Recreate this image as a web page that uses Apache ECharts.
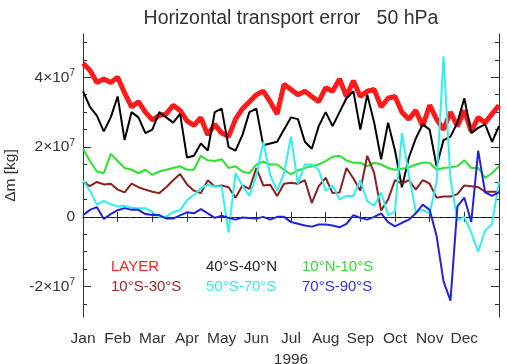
<!DOCTYPE html>
<html>
<head>
<meta charset="utf-8">
<script src="https://cdn.jsdelivr.net/npm/echarts@6/dist/echarts.min.js"></script>
<style>
  html, body { margin: 0; padding: 0; background: #fff; }
  #chart { width: 507px; height: 364px; }
</style>
</head>
<body>
<div id="chart"></div>
<script>
// months on the x axis (ticks are 12 equal steps)
const months = ['Jan', 'Feb', 'Mar', 'Apr', 'May', 'Jun', 'Jul', 'Aug', 'Sep', 'Oct', 'Nov', 'Dec'];

// y ticks, units of 1e7 kg
const yMajor = [-2, 0, 2, 4];
const yMinor = [-2.5, -1.5, -1, -0.5, 0.5, 1, 1.5, 2.5, 3, 3.5, 4.5, 5];

// samples every 0.2 month, values in units of 1e7 kg
const layer = [4.4,4.2,3.85,3.95,3.85,4.0,3.55,3.15,3.3,3.0,2.78,2.9,2.95,3.2,3.05,2.75,2.62,2.84,2.35,2.65,2.4,2.3,2.8,3.1,3.3,3.5,3.6,3.3,2.95,3.8,3.65,3.5,3.6,3.45,3.3,3.7,3.6,3.95,3.45,3.9,3.45,3.6,3.65,3.15,3.4,3.45,3.0,2.8,3.05,2.6,3.2,2.8,2.5,3.0,2.6,3.05,2.45,2.85,2.7,2.95,3.2];
const band40S40N = [3.6,3.15,2.9,2.45,2.85,3.45,2.2,3.0,2.85,2.4,2.5,3.0,2.85,2.7,2.95,1.7,1.75,2.1,1.9,3.0,3.1,2.0,1.9,2.35,3.0,3.1,2.05,2.1,2.15,2.5,2.85,2.8,2.15,1.95,2.6,3.0,2.6,3.0,3.4,3.6,2.5,3.5,2.7,1.65,2.7,1.9,0.85,1.7,2.25,2.65,2.5,1.45,2.2,2.3,2.7,3.4,2.4,2.55,2.65,2.15,2.6];
const band10N10S = [1.95,1.6,1.3,1.25,1.8,1.6,1.4,1.35,1.25,1.35,1.2,1.3,1.35,1.4,1.45,1.35,1.35,1.75,1.62,1.6,1.65,1.4,1.45,1.3,1.25,1.5,1.58,1.5,1.5,1.35,1.22,1.33,1.4,1.45,1.5,1.6,1.72,1.75,1.62,1.55,1.55,1.45,1.55,1.5,1.4,1.35,1.38,1.42,1.5,1.55,1.55,1.35,1.4,1.42,1.45,1.62,1.4,1.4,1.12,1.25,1.45];
const band10S30S = [1.0,0.88,1.0,0.93,0.95,0.78,0.7,0.95,0.85,0.78,0.72,0.68,0.85,1.05,1.23,0.93,0.75,0.68,1.05,0.87,0.9,0.85,0.55,0.9,0.8,1.4,0.9,0.92,0.6,0.95,0.98,0.95,1.05,0.4,0.88,1.12,0.68,0.7,1.4,1.1,0.75,1.75,1.25,0.18,0.5,1.05,0.95,1.05,0.78,1.05,0.95,0.55,0.58,0.58,0.65,0.9,0.88,0.85,0.72,0.72,0.72];
const band50S70S = [1.05,0.75,0.35,0.46,0.36,0.3,0.32,0.26,0.25,0.25,0.14,0.0,0.0,0.14,0.19,0.48,0.63,0.82,0.92,0.87,0.87,-0.45,1.25,0.9,0.6,1.18,2.15,1.2,0.75,1.25,2.3,0.95,1.5,1.5,1.35,0.75,0.9,0.5,0.6,0.6,1.05,0.45,0.32,0.7,0.05,0.15,2.4,1.2,0.15,0.2,0.1,1.0,4.6,1.1,-0.1,0.0,-0.45,-1.0,-0.4,-0.2,1.0];
const band70S90S = [0.05,0.2,0.28,-0.06,0.08,0.19,0.25,0.2,0.2,0.08,0.05,0.05,-0.05,-0.05,0.04,0.13,0.1,0.22,0.1,-0.03,0.03,-0.03,-0.08,-0.02,-0.03,-0.05,0.0,-0.08,0.0,0.0,-0.15,-0.2,-0.25,-0.28,-0.22,-0.22,-0.25,-0.3,-0.2,0.05,-0.03,-0.08,0.0,0.1,-0.15,-0.27,-0.17,-0.08,0.1,0.35,0.2,-0.55,-1.85,-2.4,0.3,0.55,-0.15,1.9,0.7,0.6,0.7];

const seriesNames = ['LAYER', '40°S-40°N', '10°N-10°S', '10°S-30°S', '50°S-70°S', '70°S-90°S'];
const seriesColors = ['#ff1a1a', '#000000', '#2ee02e', '#8e1f1f', '#2ef0f0', '#2222dd'];
const legendColors = ['#ff2020', '#222222', '#33dd33', '#962a2a', '#33eeee', '#3333dd'];
const seriesData = [layer, band40S40N, band10N10S, band10S30S, band50S70S, band70S90S];

const yMin = -2.87, yMax = 5.24;

const step = 0.2;
const pair = arr => arr.map((v, i) => [i * step, v]);

const font = '"Liberation Sans", Arial, sans-serif';
const ink = '#333';

const series = seriesData.map((arr, i) => ({
  name: seriesNames[i],
  type: 'line',
  data: pair(arr),
  showSymbol: false,
  symbol: 'none',
  lineStyle: { color: seriesColors[i], width: i === 0 ? 5 : 2 },
  silent: true,
  z: 2 + i
}));

// dotted zero line
series[0].markLine = {
  silent: true,
  symbol: 'none',
  label: { show: false },
  lineStyle: { color: '#000', width: 1, type: [3, 4] },
  data: [{ yAxis: 0 }]
};

const yLabel = v => v === 0 ? '0' : v + '×10{sup|7}';

// one y axis for a side and tick size
function yAxisFor(pos, ticks, len, withLabels) {
  const ax = {
    type: 'value', min: yMin, max: yMax, position: pos,
    axisLine: { show: true, lineStyle: { color: ink, width: 1 } },
    axisTick: { show: true, inside: true, length: len, customValues: ticks, lineStyle: { color: ink } },
    axisLabel: { show: false },
    splitLine: { show: false }
  };
  if (withLabels) {
    ax.name = 'Δm [kg]';
    ax.nameLocation = 'middle';
    ax.nameGap = 62;
    ax.nameRotate = 90;
    ax.nameTextStyle = { fontFamily: font, fontSize: 15.5, color: ink };
    ax.axisLabel = {
      show: true, margin: 8, customValues: ticks,
      fontFamily: font, fontSize: 15.5, color: ink,
      formatter: yLabel,
      rich: { sup: { fontFamily: font, fontSize: 10, color: ink, verticalAlign: 'top', padding: [0, 0, 8, 0] } }
    };
  }
  return ax;
}

const chart = echarts.init(document.getElementById('chart'), null, { renderer: 'canvas' });
chart.setOption({
  animation: false,
  backgroundColor: '#fff',
  title: {
    text: 'Horizontal transport error   50 hPa',
    left: 286, top: 4, textAlign: 'center',
    textStyle: { fontFamily: font, fontSize: 19.5, fontWeight: 'normal', color: ink }
  },
  grid: { left: 83, right: 8, top: 34, bottom: 47, outerBoundsMode: 'none', containLabel: false },
  xAxis: [{
    type: 'value', min: 0, max: 12, interval: 1, position: 'bottom',
    name: '1996', nameLocation: 'middle', nameGap: 30,
    nameTextStyle: { fontFamily: font, fontSize: 15.5, color: ink },
    axisLine: { lineStyle: { color: ink, width: 1 } },
    axisTick: { inside: true, length: 5, lineStyle: { color: ink } },
    axisLabel: {
      margin: 14, fontFamily: font, fontSize: 15.5, color: ink,
      formatter: v => months[v] || ''
    },
    splitLine: { show: false }
  }, {
    type: 'value', min: 0, max: 12, interval: 1, position: 'top',
    axisLine: { lineStyle: { color: ink, width: 1 } },
    axisTick: { inside: true, length: 5, lineStyle: { color: ink } },
    axisLabel: { show: false },
    splitLine: { show: false }
  }],
  yAxis: [
    yAxisFor('left', yMajor, 8, true),
    yAxisFor('left', yMinor, 4, false),
    yAxisFor('right', yMajor, 8, false),
    yAxisFor('right', yMinor, 4, false)
  ],
  graphic: seriesNames.map((name, i) => ({
    type: 'text',
    left: [111, 206, 302][i % 3],
    top: i < 3 ? 259 : 279,
    style: { text: name, fill: legendColors[i], font: '15px ' + font }
  })),
  series: series
});
</script>
</body>
</html>
